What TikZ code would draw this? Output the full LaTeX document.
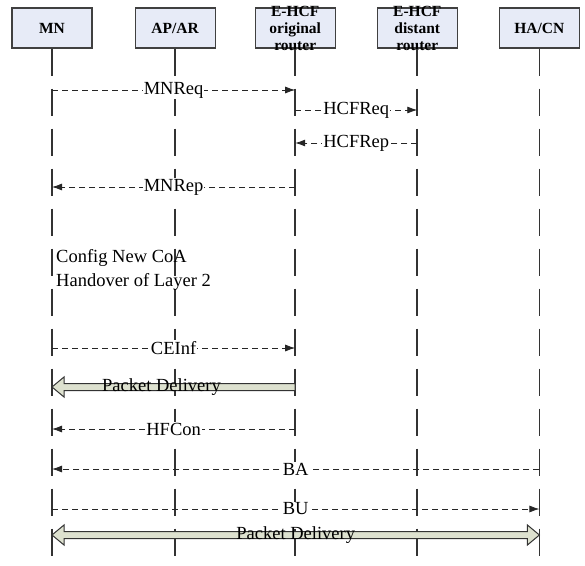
\documentclass[tikz,border=0pt]{standalone}
\usepackage{fontspec}
\setmainfont{Liberation Serif}
\usepackage{xcolor}
\usepackage{tikz}
\usetikzlibrary{arrows.meta, positioning, calc}

\definecolor{entfill}{RGB}{231,235,247}
\definecolor{pdfill}{RGB}{221,225,207}

\begin{document}
\begin{tikzpicture}[x=1pt, y=1pt,
        ent/.style={
            draw=black!75, fill=entfill, line width=1.1pt, inner sep=0pt,
            minimum width=80pt, minimum height=40pt,
            font=\fontsize{15.5}{17}\selectfont\bfseries
        },
        enttxt/.style={align=center, inner sep=0pt, font=\fontsize{15.5}{17}\selectfont\bfseries},
        life/.style={line width=1.7pt, draw=black!80, dash pattern=on 27pt off 13pt},
        msg/.style={draw=black!85, line width=0.8pt, dash pattern=on 6pt off 4pt, -{Latex[length=10pt, width=7pt]}},
        lbl/.style={fill=white, inner sep=1pt, font=\fontsize{18.5}{22}\selectfont},
        pd/.style={draw=black!80, line width=1pt, fill=pdfill},
        pdlbl/.style={inner sep=0pt, font=\fontsize{18.5}{22}\selectfont}
    ]
        \useasboundingbox (0,0) rectangle (585,-565);

        % Entidades
        \node[ent] (mn) at (52,-28) {MN};
        \node[ent, right=42pt of mn] (ap) {AP/AR};
        \node[ent, right=39pt of ap, label={[enttxt]center:E-HCF\\original\\router}] (eo) {};
        \node[ent, right=41pt of eo, label={[enttxt]center:E-HCF\\distant\\router}] (ed) {};
        \node[ent, right=41pt of ed] (ha) {HA/CN};

        % Linhas de vida
        \coordinate (bot) at (0,-565);
        \foreach \l in {mn,ap,eo,ed,ha}
            \draw[life] (\l.south) -- (\l |- bot);

        % Pontos das mensagens
        \foreach \k/\y in {1/90, 2/110, 3/143, 4/187, 5/348, 6/387, 7/429, 8/469, 9/509, 10/535}
            \foreach \l in {mn,ap,eo,ed,ha}
                \coordinate (\l-\k) at (\l |- 0,-\y);

        % Mensagens
        \draw[msg] (mn-1) -- node[lbl] (req) {MNReq} (eo-1);
        \draw[msg] (eo-2) -- node[lbl] (hreq) {HCFReq} (ed-2);
        \draw[msg] (ed-3) -- node[lbl] (hrep) {HCFRep} (eo-3);
        \draw[msg] (eo-4) -- node[lbl] (rep) {MNRep} (mn-4);

        \node[anchor=west, align=left, inner sep=0pt, font=\fontsize{18.5}{24}\selectfont] (cfg) at (56,-270)
            {Config New CoA\\Handover of Layer 2};

        \draw[msg] (mn-5) -- node[lbl] (cei) {CEInf} (eo-5);

        % Entrega de pacotes
        \draw[pd] (mn-6) -- ++(12,10) -- ++(0,-6.5) -- ([yshift=3.5pt]eo-6) -- ([yshift=-3.5pt]eo-6)
            -- ([shift={(12pt,-3.5pt)}]mn-6) -- ++(0,-6.5) -- cycle;
        \node[pdlbl] (pd1) at ($(mn-6)!0.45!(eo-6)$) {Packet Delivery};

        \draw[msg] (eo-7) -- node[lbl] (hfc) {HFCon} (mn-7);
        \draw[msg] (ha-8) -- node[lbl] (ba) {BA} (mn-8);
        \draw[msg] (mn-9) -- node[lbl] (bu) {BU} (ha-9);

        \draw[pd] (mn-10) -- ++(12,10) -- ++(0,-6.5) -- ([shift={(-12pt,3.5pt)}]ha-10) -- ++(0,6.5)
            -- (ha-10) -- ++(-12,-10) -- ++(0,6.5) -- ([shift={(12pt,-3.5pt)}]mn-10) -- ++(0,-6.5) -- cycle;
        \node[pdlbl] (pd2) at ($(mn-10)!0.5!(ha-10)$) {Packet Delivery};

    \end{tikzpicture}
\end{document}
